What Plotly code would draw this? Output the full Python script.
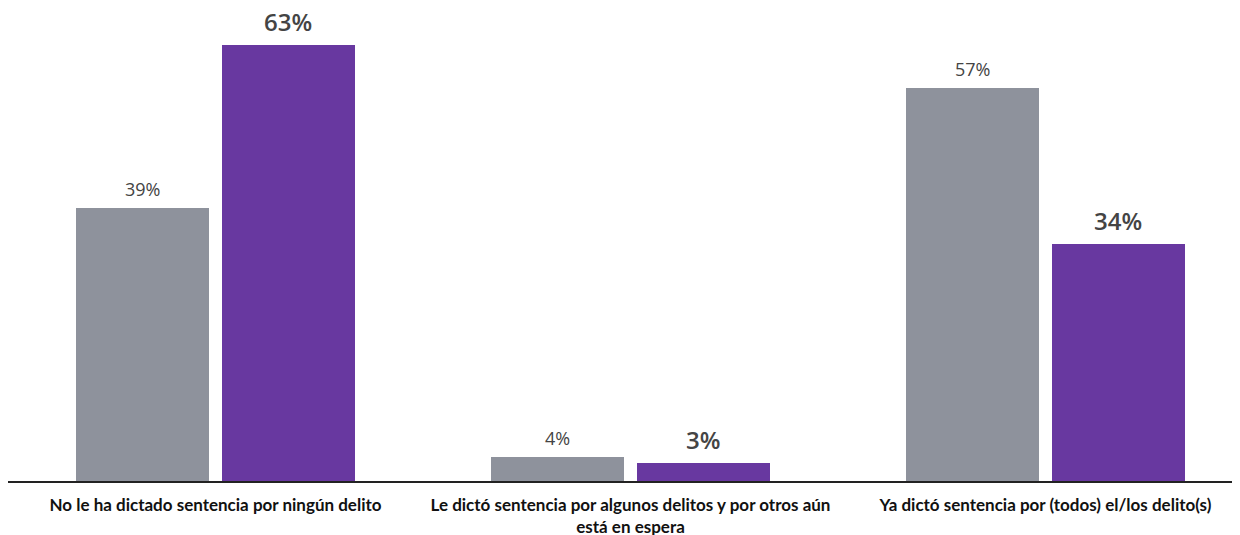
import plotly.graph_objects as go

categories = [
    "No le ha dictado sentencia por ningún delito",
    "Le dictó sentencia por algunos delitos y por otros aún<br>está en espera",
    "Ya dictó sentencia por (todos) el/los delito(s)",
]
serie_gris = [39.4, 3.5, 56.8]
serie_morada = [63.0, 2.6, 34.2]

gris = "#8e929c"
morado = "#6838a0"
bar_w = 0.32
off_gris = -0.336
off_morado = 0.0157

x = list(range(len(categories)))

fig = go.Figure()
fig.add_trace(go.Bar(x=x, y=serie_gris, width=bar_w, offset=off_gris,
                     marker=dict(color=gris, line=dict(width=0)), showlegend=False))
fig.add_trace(go.Bar(x=x, y=serie_morada, width=bar_w, offset=off_morado,
                     marker=dict(color=morado, line=dict(width=0)), showlegend=False))

# etiquetas de valor
for i in x:
    fig.add_annotation(x=i + off_gris + bar_w / 2, y=serie_gris[i], text=f"{serie_gris[i]:.0f}%",
                       showarrow=False, yanchor="bottom", yshift=5,
                       font=dict(family="Open Sans", size=18, color="#444"))
    fig.add_annotation(x=i + off_morado + bar_w / 2, y=serie_morada[i], text=f"{serie_morada[i]:.0f}%",
                       showarrow=False, yanchor="bottom", yshift=5,
                       font=dict(family="Open Sans", size=24, color="#444", weight=600))

fig.update_layout(
    width=1240, height=535,
    margin=dict(l=0, r=0, t=0, b=62),
    plot_bgcolor="white", paper_bgcolor="white",
    bargap=0,
    font=dict(family="Lato", color="#111"),
    xaxis=dict(range=[-0.5, 2.488], tickmode="array", tickvals=x,
               ticktext=[f"<b>{c}</b>" for c in categories],
               tickfont=dict(family="Lato", size=17, color="#111"),
               showline=True, linecolor="#222", linewidth=1.5,
               ticks="", ticklabelstandoff=8, showgrid=False, zeroline=False),
    yaxis=dict(range=[0, 68.35], visible=False, showgrid=False, zeroline=False),
)

fig.write_html("out.html")
